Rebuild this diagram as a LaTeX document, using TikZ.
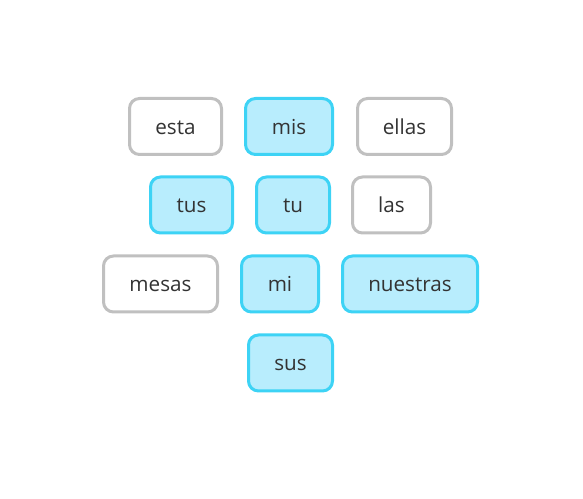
\documentclass[tikz,border=0pt]{standalone}
\usepackage{fontspec}
\setmainfont{Open Sans}
\usepackage{xcolor}
\usepackage{tikz}
\definecolor{rahmengrau}{HTML}{C0C0C0}
\definecolor{rahmencyan}{HTML}{3DD3F5}
\definecolor{fuellcyan}{HTML}{B8EDFD}
\definecolor{textgrau}{HTML}{333333}
\tikzset{
  wort/.style={draw=rahmengrau, fill=white, line width=2.25pt, rounded corners=7.5pt,
    minimum height=42pt, inner sep=0pt, text height=13pt, text depth=1pt,
    text=textgrau, font=\fontsize{15.5}{18}\selectfont},
  treffer/.style={wort, draw=rahmencyan, fill=fuellcyan}
}
\begin{document}
\begin{tikzpicture}[x=0.75pt,y=-0.75pt]
        % Umgebung
        \useasboundingbox (0,0) rectangle (583,499);
        
        % Erste Reihe
        \node[wort, minimum width=69pt] (esta) at (175.5,126.5) {esta};
        \node[treffer, minimum width=65.25pt] (mis) at (289,126.5) {mis};
        \node[wort, minimum width=70.5pt] (ellas) at (404.5,126.5) {ellas};
        
        % Zweite Reihe
        \node[treffer, minimum width=61.5pt] (tus) at (191.5,205) {tus};
        \node[treffer, minimum width=54.75pt] (tu) at (293,205) {tu};
        \node[wort, minimum width=58.5pt] (las) at (391.5,205) {las};
        
        % Dritte Reihe
        \node[wort, minimum width=85.5pt] (mesas) at (160.5,284) {mesas};
        \node[treffer, minimum width=57.75pt] (mi) at (280,284) {mi};
        \node[treffer, minimum width=101.25pt] (nuestras) at (410,284) {nuestras};
        
        % Vierte Reihe
        \node[treffer, minimum width=63pt] (sus) at (290.5,363) {sus};
        
    \end{tikzpicture}
\end{document}
